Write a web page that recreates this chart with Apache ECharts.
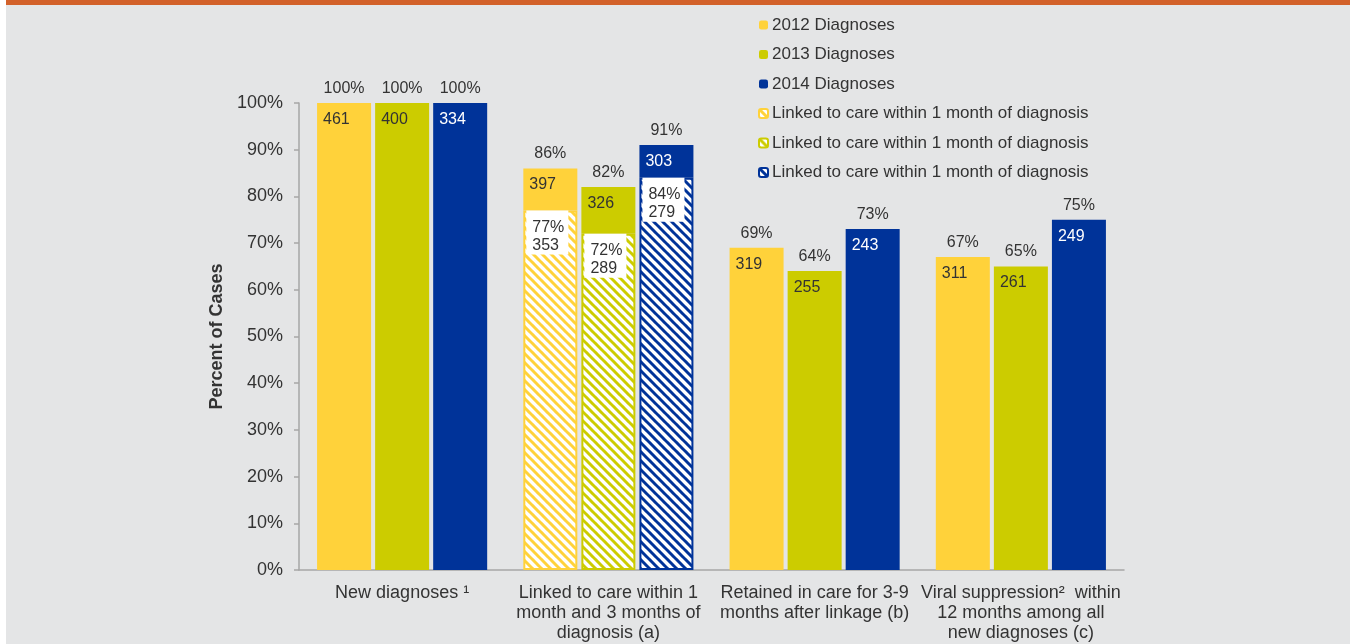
<!DOCTYPE html>
<html>
<head>
<meta charset="utf-8">
<script src="https://cdn.jsdelivr.net/npm/echarts@6/dist/echarts.min.js"></script>
<style>
html, body { margin: 0; padding: 0; background: #fff; }
#chart { width: 1356px; height: 644px; }
</style>
</head>
<body>
<div id="chart"></div>
<script>
// categories (x axis)
var categories = [
	'New diagnoses \u00b9',
	'Linked to care within 1\nmonth and 3 months of\ndiagnosis (a)',
	'Retained in care for 3-9\nmonths after linkage (b)',
	'Viral suppression\u00b2  within\n12 months among all\nnew diagnoses (c)'
];
var yTicks = [0, 10, 20, 30, 40, 50, 60, 70, 80, 90, 100];

// percent of cases and case counts per year
var pct2012 = [100, 86, 69, 67];
var n2012 = [461, 397, 319, 311];
var pct2013 = [100, 82, 64, 65];
var n2013 = [400, 326, 255, 261];
var pct2014 = [100, 91, 73, 75];
var n2014 = [334, 303, 243, 249];

// linked to care within 1 month (only second category)
var pct1m2012 = [null, 77, null, null];
var n1m2012 = [null, 353, null, null];
var pct1m2013 = [null, 72, null, null];
var n1m2013 = [null, 289, null, null];
var pct1m2014 = [null, 84, null, null];
var n1m2014 = [null, 279, null, null];

var yellow = '#FFD23A';
var olive = '#CCCC00';
var blue = '#003399';
var txt = '#333333';
var name1m = 'Linked to care within 1 month of diagnosis';

//斜线填充
function hatch(color) {
	var s = 9;
	var c = document.createElement('canvas');
	c.width = s;
	c.height = s;
	var ctx = c.getContext('2d');
	ctx.fillStyle = '#fff';
	ctx.fillRect(0, 0, s, s);
	ctx.strokeStyle = color;
	ctx.lineWidth = 3;
	[-s, 0, s].forEach(function (k) {
		ctx.beginPath();
		ctx.moveTo(k - 1, -1);
		ctx.lineTo(k + s + 1, s + 1);
		ctx.stroke();
	});
	return { image: c, repeat: 'repeat' };
}

// solid part sits on top of the hatched part
function rest(total, part) {
	return total.map(function (v, i) { return part[i] == null ? v : v - part[i]; });
}

function solidSeries(name, stack, color, total, part, counts, countColor) {
	return {
		name: name,
		type: 'bar',
		stack: stack,
		barWidth: 54,
		barGap: '7.5%',
		data: rest(total, part),
		itemStyle: { color: color },
		label: {
			show: true,
			position: [0, -30],
			align: 'left',
			verticalAlign: 'top',
			formatter: function (p) {
				return '{p|' + total[p.dataIndex] + '%}\n{n|' + counts[p.dataIndex] + '}';
			},
			rich: {
				p: { width: 54, align: 'center', lineHeight: 31, fontSize: 16, color: txt, fontFamily: 'Liberation Sans' },
				n: { align: 'left', padding: [0, 0, 0, 6], lineHeight: 31, fontSize: 16, color: countColor, fontFamily: 'Liberation Sans' }
			}
		}
	};
}

function hatchSeries(name, stack, color, part, counts) {
	return {
		name: name,
		type: 'bar',
		stack: stack,
		barWidth: 54,
		barGap: '7.5%',
		data: part,
		itemStyle: { color: hatch(color), borderColor: color, borderWidth: 2 },
		label: {
			show: true,
			position: [3, 0],
			align: 'left',
			verticalAlign: 'top',
			backgroundColor: '#fff',
			padding: [8, 4, 0, 6],
			lineHeight: 18,
			fontSize: 16,
			color: txt,
			fontFamily: 'Liberation Sans',
			formatter: function (p) {
				return part[p.dataIndex] + '%\n' + counts[p.dataIndex];
			}
		}
	};
}

var myChart = echarts.init(document.getElementById('chart'));
var option = {
	animation: false,
	backgroundColor: '#fff',
	textStyle: { fontFamily: 'Liberation Sans' },
	graphic: [
		{ type: 'rect', z: -10, shape: { x: 6, y: 0, width: 1344, height: 644 }, style: { fill: '#E4E5E6' } },
		{ type: 'rect', z: -9, shape: { x: 6, y: 0, width: 1344, height: 5 }, style: { fill: '#D2612A' } }
	],
	legend: {
		orient: 'vertical',
		left: 758,
		top: 15,
		padding: 0,
		itemWidth: 9,
		itemHeight: 9,
		itemGap: 9.5,
		textStyle: { fontSize: 17, lineHeight: 20, color: txt, padding: [0, 0, 0, -1] },
		formatter: function (name) { return name.replace(/\u200b/g, ''); },
		data: ['2012 Diagnoses', '2013 Diagnoses', '2014 Diagnoses', name1m, name1m + '\u200b', name1m + '\u200b\u200b']
	},
	grid: { left: 299, right: 232, top: 103, bottom: 74 },
	xAxis: {
		type: 'category',
		data: categories,
		axisLine: { lineStyle: { color: '#A6A6A6', width: 1.5 } },
		axisTick: { length: 5, lineStyle: { color: '#A6A6A6', width: 1.5 } },
		axisLabel: { interval: 0, fontSize: 18, lineHeight: 20, color: txt, margin: 13 }
	},
	yAxis: {
		type: 'value',
		min: yTicks[0],
		max: yTicks[yTicks.length - 1],
		interval: 10,
		name: 'Percent of Cases',
		nameLocation: 'middle',
		nameRotate: 90,
		nameGap: 72,
		nameTextStyle: { fontSize: 18, fontWeight: 'bold', color: txt },
		splitLine: { show: false },
		axisLine: { show: true, lineStyle: { color: '#A6A6A6', width: 1.5 } },
		axisTick: { show: true, length: 5, lineStyle: { color: '#A6A6A6', width: 1.5 } },
		axisLabel: { fontSize: 18, color: txt, margin: 16, formatter: '{value}%' }
	},
	series: [
		hatchSeries(name1m, 's12', yellow, pct1m2012, n1m2012),
		solidSeries('2012 Diagnoses', 's12', yellow, pct2012, pct1m2012, n2012, txt),
		hatchSeries(name1m + '\u200b', 's13', olive, pct1m2013, n1m2013),
		solidSeries('2013 Diagnoses', 's13', olive, pct2013, pct1m2013, n2013, txt),
		hatchSeries(name1m + '\u200b\u200b', 's14', blue, pct1m2014, n1m2014),
		solidSeries('2014 Diagnoses', 's14', blue, pct2014, pct1m2014, n2014, '#fff')
	]
};
myChart.setOption(option);
</script>
</body>
</html>
